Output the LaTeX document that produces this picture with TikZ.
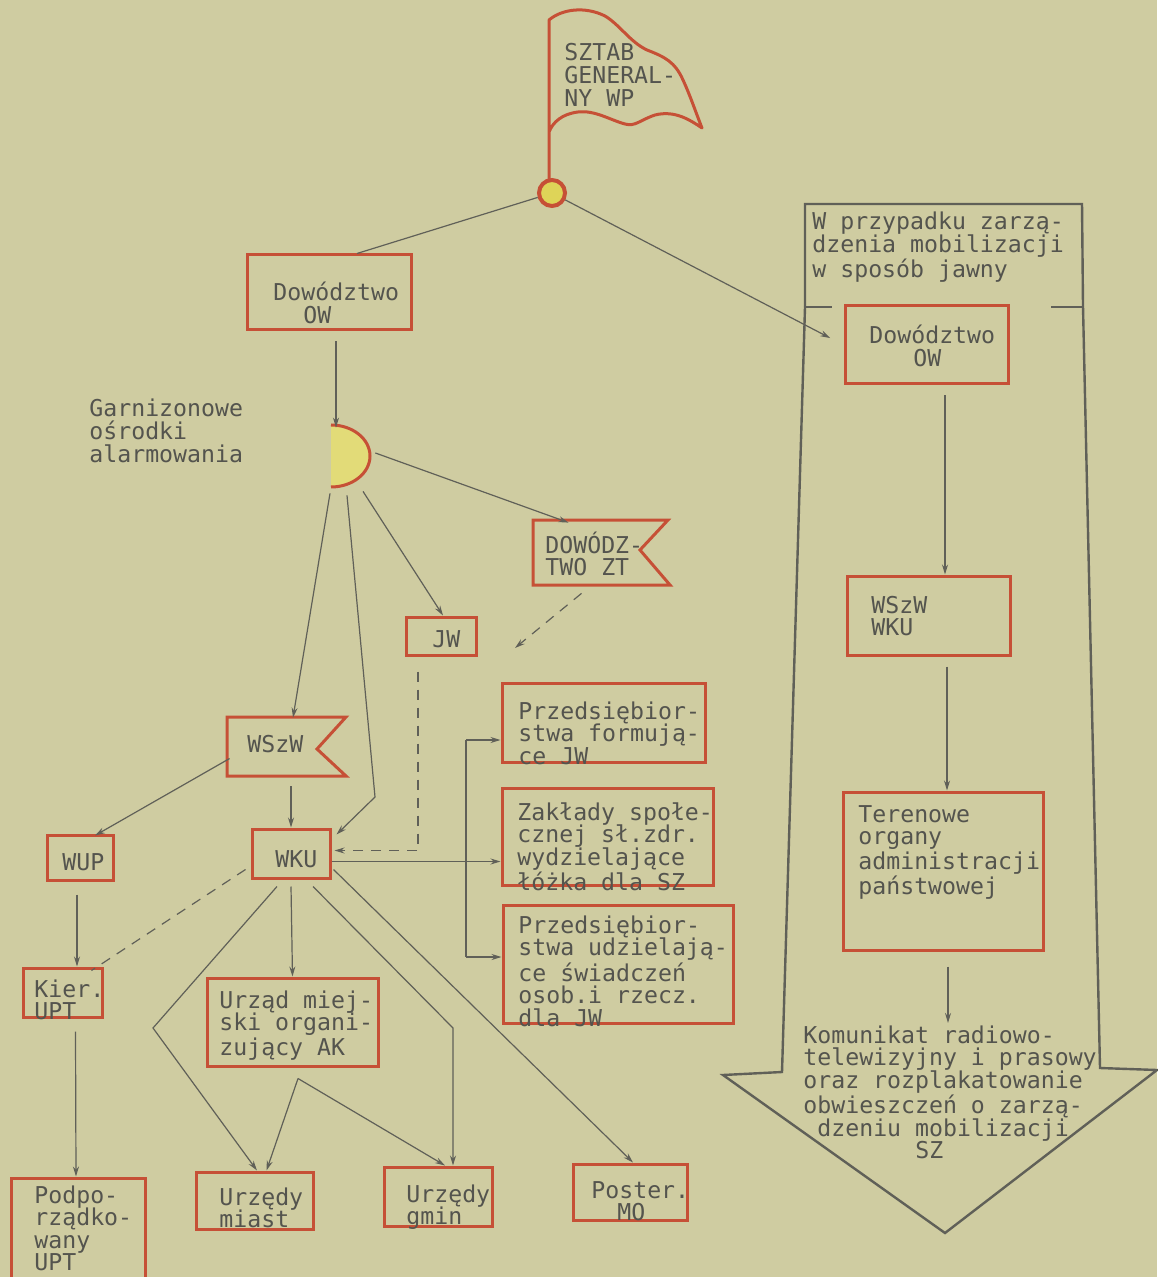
\documentclass[tikz,border=0pt]{standalone}
\usepackage{fontspec}
\setmonofont{DejaVu Sans Mono}
\usetikzlibrary{arrows.meta,calc,fit}
\definecolor{paper}{RGB}{207,204,161}
\definecolor{boxred}{RGB}{198,80,54}
\definecolor{linec}{RGB}{96,96,88}
\definecolor{txtc}{RGB}{84,84,78}
\definecolor{yel}{RGB}{222,212,88}
\definecolor{paleyel}{RGB}{226,219,120}
\newcommand{\twfont}{\ttfamily\fontsize{11.6}{11.3}\selectfont}
\begin{document}
\begin{tikzpicture}[x=0.5pt,y=-0.5pt,
  box/.style={draw=boxred, line width=1.5pt, inner sep=0pt},
  ghost/.style={inner sep=0pt},
  redline/.style={draw=boxred, line width=1.5pt, line join=miter},
  txt/.style={anchor=base west, inner sep=0pt, text width=250pt, font=\twfont, text=txtc,
    execute at begin node={\spaceskip=6.98pt\xspaceskip=6.98pt\relax}},
  conn/.style={draw=linec, line width=0.6pt},
  arr/.style={conn, -{Stealth[length=5pt,width=3pt]}},
  dashconn/.style={conn, dash pattern=on 5pt off 4pt},
  dasharr/.style={dashconn, -{Stealth[length=5pt,width=3pt]}},
  bigarr/.style={draw=linec, line width=1.2pt, line join=miter}
]
\path[use as bounding box, fill=paper] (0,0) rectangle (1157,1277);

% ---- flag (Sztab Generalny) ----
\draw[redline, line join=round] (549,180) -- (549,20)
  .. controls (562,9) and (585,6) .. (605,16)
  .. controls (620,25) and (630,42) .. (647,50)
  .. controls (665,57) and (675,62) .. (683,80)
  .. controls (690,95) and (696,113) .. (702,128)
  .. controls (690,120) and (675,110) .. (655,115)
  .. controls (640,120) and (635,127) .. (625,124)
  .. controls (610,120) and (595,110) .. (578,112)
  .. controls (562,114) and (553,122) .. (549,132);
\node[circle, draw=boxred, fill=yel, line width=2pt, minimum size=13pt, inner sep=0pt] (sg) at (552,193) {};
\node[txt] (sgt) at (564,61) {SZTAB\\GENERAL-\\NY WP};

% ---- left column ----
\node[box, fit={(247,255) (411,330)}] (dowL) {};
\node[txt] (dowLt) at (273,301) {Dowództwo\\\hspace*{15pt}OW};

\node[ghost, fit={(292,425) (370,487)}] (alarm) {};
\fill[paleyel] (331,425) arc[start angle=-90, end angle=90, x radius=39, y radius=31] -- cycle;
\draw[draw=boxred, line width=1.5pt] (331,425) arc[start angle=-90, end angle=90, x radius=39, y radius=31];
\node[txt] (gar) at (89,417) {Garnizonowe\\ośrodki\\alarmowania};

\node[ghost, fit={(533,520) (670,585)}] (zt) {};
\draw[redline] (533,520) -- (668,520) -- (640,550) -- (670,585) -- (533,585) -- cycle;
\node[txt] (ztt) at (545,553) {DOWÓDZ-\\TWO ZT};

\node[box, fit={(406,617) (476,655)}] (jw) {};
\node[txt] (jwt) at (432,647) {JW};

\node[ghost, fit={(227,717) (346,776)}] (wszw) {};
\draw[redline] (227,717) -- (346,717) -- (317,749) -- (346,776) -- (227,776) -- cycle;
\node[txt] (wszwt) at (247,752) {WSzW};

\node[box, fit={(252,829) (330,878)}] (wku) {};
\node[txt] (wkut) at (275,867) {WKU};

\node[box, fit={(47,835) (113,880)}] (wup) {};
\node[txt] (wupt) at (62,870) {WUP};

\node[box, fit={(23,968) (102,1017)}] (kier) {};
\node[txt] (kiert) at (34,997) {Kier.\\UPT};

\node[box, fit={(207,978) (378,1066)}] (ak) {};
\node[txt] (akt) at (219,1008) {Urząd miej-\\ski organi-\\zujący AK};

\node[box, fit={(11,1178) (145,1300)}] (podpo) {};
\node[txt] (podpot) at (34,1203) {Podpo-\\rządko-\\wany\\UPT};

\node[box, fit={(196,1172) (313,1229)}] (miast) {};
\node[txt] (miastt) at (219,1205) {Urzędy\\miast};

\node[box, fit={(384,1167) (492,1226)}] (gmin) {};
\node[txt] (gmint) at (406,1202) {Urzędy\\gmin};

\node[box, fit={(573,1164) (687,1220)}] (poster) {};
\node[txt] (postert) at (591,1198) {Poster.\\\hspace*{13pt}MO};

% ---- middle boxes ----
\node[box, fit={(502,683) (705,762)}] (pf) {};
\node[txt] (pft) at (518,719) {Przedsiębior-\\stwa formują-\\ce JW};

\node[box, fit={(502,788) (713,885)}] (zak) {};
\node[txt] (zakt) at (517,820) {Zakłady społe-\\cznej sł.zdr.\\wydzielające\\łóżka dla SZ};

\node[box, fit={(503,905) (733,1023)}] (pu) {};
\node[txt] (put) at (518,933) {Przedsiębior-\\stwa udzielają-\\ce świadczeń\\osob.i rzecz.\\dla JW};

% ---- right big arrow ----
\draw[bigarr] (805,307) -- (805,204) -- (1082,204) -- (1083,307);
\draw[bigarr] (805,307) -- (832,307);
\draw[bigarr] (1051,307) -- (1083,307);
\draw[bigarr] (805,307) -- (782,1072) -- (723,1075) -- (945,1233) -- (1157,1070) -- (1100,1068) -- (1083,307);
\node[txt] (wpr) at (812,230) {W przypadku zarzą-\\dzenia mobilizacji\\w sposób jawny};

\node[box, fit={(845,306) (1008,384)}] (dowR) {};
\node[txt] (dowRt) at (869,344) {Dowództwo\\\hspace*{22pt}OW};

\node[box, fit={(847,576) (1010,655)}] (wkR) {};
\node[txt] (wkRt) at (871,613) {WSzW\\WKU};

\node[box, fit={(843,792) (1043,950)}] (ter) {};
\node[txt] (tert) at (858,822) {Terenowe\\organy\\administracji\\państwowej};

\node[txt] (kom) at (803,1043) {Komunikat radiowo-\\telewizyjny i prasowy\\oraz rozplakatowanie\\obwieszczeń o zarzą-\\\hspace*{7pt}dzeniu mobilizacji\\\hspace*{56pt}SZ};

% ---- coordinates ----
\coordinate (gbend) at (375,797);
\coordinate (ztend) at (515,648);
\coordinate (lbend) at (153,1028);
\coordinate (rbend) at (453,1028);
\coordinate (apex) at ($(ak.south)+(5.5,11)$);
\coordinate (wkuR) at ($(wku.east)+(0,8)$);
\coordinate (brT) at (466,740);
\coordinate (brB) at (466,957);

% ---- connectors ----
\draw[conn] (sg) -- ($(dowL.north)+(28,0)$);
\draw[arr, shorten >=7.5pt] (sg) -- (dowR.west);
\draw[arr] ($(dowL.south)+(7,10)$) -- ($(alarm.north)+(5,3)$);
\draw[arr] ($(alarm.east)+(5,-3)$) -- ($(zt.north)+(-33,3)$);
\draw[arr] ($(alarm.south)+(32,4)$) -- ($(jw.north)+(2,0)$);
\draw[arr] ($(alarm.south)+(-1,6)$) -- ($(wszw.north)+(6.5,1)$);
\draw[arr] ($(alarm.south)+(16,8)$) -- (gbend) -- ($(wku.north east)+(5,7)$);
\draw[dasharr] ($(jw.south)+(-23,15)$) |- ($(wku.east)+(3,-3)$);
\draw[dasharr] ($(zt.south)+(-20,8)$) -- (ztend);
\draw[arr] ($(wszw.south)+(4.5,10)$) -- (wku.north);
\draw[arr] ($(wszw.west)+(3,12)$) -- ($(wup.north)+(15,2)$);
\draw[arr] ($(wup.south)+(-3,13)$) -- ($(kier.north)+(14.5,0)$);
\draw[dashconn] ($(wku.west)+(-5,16)$) -- ($(kier.north east)+(-12,4)$);
\draw[arr] ($(kier.south)+(13,13)$) -- ($(podpo.north)+(-2,0)$);
\draw[arr] ($(wku.south)+(0,7)$) -- (ak.north);
\draw[arr] ($(wku.south)+(-14,7)$) -- (lbend) -- ($(miast.north)+(2.5,0)$);
\draw[arr] (apex) -- ($(miast.north)+(12,0)$);
\draw[arr] (apex) -- ($(gmin.north)+(7,0)$);
\draw[arr] ($(wku.south)+(22,7)$) -- (rbend) -- ($(gmin.north)+(15,0)$);
\draw[arr] ($(wku.south east)+(2,-10)$) -- ($(poster.north)+(3,0)$);
\draw[arr] (wkuR) -- (wkuR -| zak.west);
\draw[conn] (brT) -- (brB);
\draw[arr] (brT) -- (brT -| pf.west);
\draw[arr] (brB) -- (brB -| pu.west);

\draw[arr] ($(dowR.south -| 945,0)+(0,10)$) -- (wkR.north -| 945,0);
\draw[arr] ($(wkR.south -| 947,0)+(0,10)$) -- (ter.north -| 947,0);
\draw[arr] ($(ter.south -| 948,0)+(0,15)$) -- ($(kom.north -| 948,0)+(0,-2)$);
\end{tikzpicture}
\end{document}
